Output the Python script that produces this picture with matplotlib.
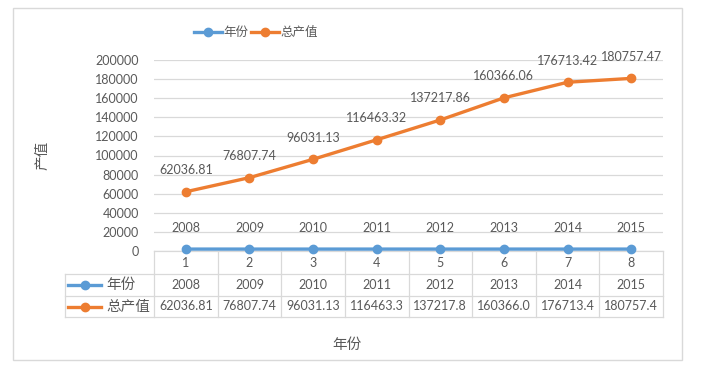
import matplotlib
matplotlib.use('Agg')
import matplotlib.pyplot as plt
from matplotlib.lines import Line2D
from matplotlib.patches import Rectangle

# ---- data ----
categories = [1, 2, 3, 4, 5, 6, 7, 8]
years = [2008, 2009, 2010, 2011, 2012, 2013, 2014, 2015]
output_values = [62036.81, 76807.74, 96031.13, 116463.32, 137217.86,
                 160366.06, 176713.42, 180757.47]
series_names = ['年份', '总产值']
y_ticks = [0, 20000, 40000, 60000, 80000, 100000, 120000, 140000, 160000, 180000, 200000]
y_label = '产值'
x_label = '年份'

plt.rcParams['font.family'] = ['Lato', 'Noto Sans CJK SC', 'DejaVu Sans']

BLUE = '#5B9BD5'
ORANGE = '#ED7D31'
TXT = '#595959'
GRID = '#d9d9d9'
NUM_FS = 9

W, H = 707, 365
fig = plt.figure(figsize=(W / 100, H / 100), dpi=100)

L, R, T, B = 154, 663, 60, 251
ax = fig.add_axes([L / W, 1 - B / H, (R - L) / W, (B - T) / H])
ax.set_xlim(0.5, 8.5)
ax.set_ylim(0, 200000)
for s in ax.spines.values():
    s.set_visible(False)
ax.set_yticks(y_ticks)
ax.set_yticklabels([str(t) for t in y_ticks], color=TXT, fontsize=NUM_FS)
ax.tick_params(axis='y', length=0, pad=11)
ax.set_xticks([])
ax.grid(axis='y', color=GRID, lw=0.9)
ax.set_axisbelow(True)

series = [years, output_values]
colors = [BLUE, ORANGE]
for vals, c in zip(series, colors):
    ax.plot(categories, vals, color=c, lw=2.4, marker='o', ms=6, clip_on=False, zorder=3)
    for x, v in zip(categories, vals):
        ax.annotate(str(v), (x, v), xytext=(0, 15.5), textcoords='offset points',
                    ha='center', va='center', fontsize=NUM_FS, color=TXT)

# ---- data table below ----
tr = ax.get_xaxis_transform()
ppu = (R - L) / 8.0


def ya(py):
    return (B - py) / (B - T)


def xd(px):
    return 0.5 + (px - L) / ppu


r0, r1, r2, r3 = 251, 274, 296, 317
xl = xd(65)
kw = dict(color=GRID, lw=0.9, transform=tr, clip_on=False)
for i in range(9):
    ax.plot([0.5 + i, 0.5 + i], [ya(r0), ya(r3)], **kw)
ax.plot([xl, xl], [ya(r1), ya(r3)], **kw)
ax.plot([0.5, 8.5], [ya(r0), ya(r0)], **kw)
for r in (r1, r2, r3):
    ax.plot([xl, 8.5], [ya(r), ya(r)], **kw)

for x in categories:
    ax.text(x, ya(263), str(x), transform=tr, ha='center', va='center',
            fontsize=NUM_FS, color=TXT)
row_centers = [285, 306.5]
row_texts = [[str(y) for y in years], [f"{v:.2f}"[:8] for v in output_values]]
for rc, texts, c, name in zip(row_centers, row_texts, colors, series_names):
    for x, t in zip(categories, texts):
        ax.text(x, ya(rc), t, transform=tr, ha='center', va='center',
                fontsize=NUM_FS, color=TXT)
    ax.add_line(Line2D([xd(68), xd(101)], [ya(rc), ya(rc)], color=c, lw=2.4,
                       transform=tr, clip_on=False))
    ax.add_line(Line2D([xd(84.5)], [ya(rc)], color=c, marker='o', ms=6,
                       transform=tr, clip_on=False))
    ax.text(xd(106), ya(rc), name, transform=tr, ha='left', va='center',
            fontsize=10.5, color=TXT)

# ---- axis titles ----
fig.text(42 / W, 1 - 155 / H, y_label, rotation=90, ha='center', va='center',
         fontsize=10.5, color=TXT)
fig.text(347 / W, 1 - 345 / H, x_label, ha='center', va='center',
         fontsize=10.5, color=TXT)

# ---- legend ----
handles = [Line2D([], [], color=c, lw=2.4, marker='o', ms=6) for c in colors]
leg = fig.legend(handles, series_names, loc='center', bbox_to_anchor=(256 / W, 1 - 32 / H),
                 ncol=2, frameon=False, handlelength=2.2, handletextpad=0.15,
                 columnspacing=0.2, fontsize=9)
for t in leg.get_texts():
    t.set_color(TXT)

# ---- outer frame ----
fig.patches.append(Rectangle((13 / W, 1 - 360 / H), (682 - 13) / W, (360 - 8) / H,
                             transform=fig.transFigure, fill=False, edgecolor=GRID, lw=1))

fig.savefig('out.png', dpi=100)
